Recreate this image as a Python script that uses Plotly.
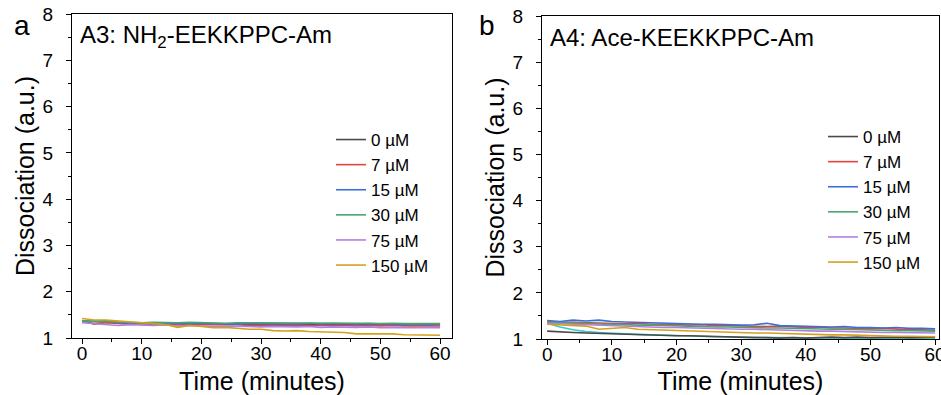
import plotly.graph_objects as go

time_min = [0, 2, 4, 6, 8, 10, 12, 14, 16, 18, 20, 22, 24, 26, 28, 30,
            32, 34, 36, 38, 40, 42, 44, 46, 48, 50, 52, 54, 56, 58, 60]

series_names = ["0 µM", "7 µM", "15 µM", "30 µM", "75 µM", "150 µM"]
series_colors = ["#4a4a4a", "#e8413c", "#3b6fd8", "#4aa66a", "#b27fe0", "#d4a020"]

# Panel a: A3 NH2-EEKKPPC-Am
a_0uM = [1.37, 1.35, 1.34, 1.33, 1.33, 1.32, 1.32, 1.31, 1.31, 1.31, 1.30, 1.31, 1.30, 1.30, 1.30, 1.29,
         1.30, 1.29, 1.30, 1.29, 1.29, 1.29, 1.30, 1.29, 1.28, 1.29, 1.29, 1.28, 1.29, 1.28, 1.29]
a_7uM = [1.38, 1.30, 1.33, 1.31, 1.30, 1.31, 1.29, 1.30, 1.28, 1.29, 1.29, 1.28, 1.28, 1.29, 1.27, 1.28,
         1.28, 1.27, 1.28, 1.27, 1.27, 1.28, 1.27, 1.26, 1.27, 1.26, 1.27, 1.26, 1.26, 1.27, 1.26]
a_15uM = [1.35, 1.36, 1.37, 1.33, 1.32, 1.32, 1.31, 1.32, 1.31, 1.31, 1.32, 1.31, 1.31, 1.30, 1.31, 1.31,
          1.30, 1.31, 1.30, 1.32, 1.30, 1.31, 1.30, 1.30, 1.31, 1.30, 1.30, 1.29, 1.30, 1.29, 1.30]
a_30uM = [1.37, 1.36, 1.35, 1.34, 1.34, 1.33, 1.34, 1.33, 1.33, 1.34, 1.33, 1.33, 1.32, 1.33, 1.33, 1.32,
          1.33, 1.32, 1.33, 1.32, 1.33, 1.32, 1.32, 1.33, 1.32, 1.31, 1.32, 1.31, 1.31, 1.31, 1.31]
a_75uM = [1.33, 1.31, 1.28, 1.27, 1.29, 1.28, 1.27, 1.28, 1.26, 1.27, 1.26, 1.25, 1.26, 1.25, 1.25, 1.24,
          1.25, 1.24, 1.24, 1.25, 1.23, 1.24, 1.23, 1.23, 1.24, 1.22, 1.23, 1.22, 1.22, 1.23, 1.22]
a_150uM = [1.42, 1.39, 1.39, 1.37, 1.36, 1.33, 1.32, 1.29, 1.23, 1.27, 1.25, 1.22, 1.23, 1.21, 1.19, 1.19,
           1.16, 1.15, 1.16, 1.14, 1.13, 1.13, 1.12, 1.09, 1.09, 1.08, 1.09, 1.07, 1.07, 1.07, 1.06]

# Panel b: A4 Ace-KEEKKPPC-Am
b_0uM = [1.17, 1.15, 1.14, 1.13, 1.12, 1.11, 1.10, 1.10, 1.09, 1.08, 1.07, 1.07, 1.06, 1.05, 1.04, 1.03,
         1.03, 1.03, 1.02, 1.03, 1.02, 1.03, 1.04, 1.03, 1.04, 1.03, 1.04, 1.04, 1.03, 1.04, 1.04]
b_7uM = [1.38, 1.36, 1.36, 1.35, 1.35, 1.34, 1.33, 1.34, 1.32, 1.32, 1.31, 1.30, 1.31, 1.29, 1.29, 1.28,
         1.28, 1.27, 1.28, 1.26, 1.25, 1.26, 1.24, 1.24, 1.23, 1.22, 1.23, 1.21, 1.20, 1.20, 1.19]
b_15uM = [1.40, 1.38, 1.41, 1.39, 1.41, 1.38, 1.37, 1.36, 1.35, 1.34, 1.33, 1.33, 1.32, 1.32, 1.31, 1.30,
          1.31, 1.34, 1.29, 1.28, 1.28, 1.27, 1.26, 1.27, 1.25, 1.25, 1.24, 1.25, 1.23, 1.23, 1.22]
b_30uM = [1.36, 1.35, 1.34, 1.33, 1.33, 1.32, 1.31, 1.30, 1.30, 1.29, 1.28, 1.28, 1.27, 1.26, 1.26, 1.25,
          1.25, 1.24, 1.24, 1.23, 1.22, 1.22, 1.21, 1.21, 1.20, 1.19, 1.19, 1.18, 1.18, 1.17, 1.17]
b_75uM = [1.34, 1.33, 1.31, 1.30, 1.29, 1.28, 1.27, 1.27, 1.26, 1.25, 1.25, 1.24, 1.23, 1.23, 1.22, 1.21,
          1.21, 1.20, 1.19, 1.19, 1.18, 1.17, 1.17, 1.16, 1.16, 1.15, 1.14, 1.14, 1.14, 1.13, 1.13]
b_150uM = [1.32, 1.31, 1.30, 1.28, 1.21, 1.23, 1.25, 1.21, 1.20, 1.19, 1.18, 1.17, 1.17, 1.16, 1.15, 1.14,
           1.13, 1.13, 1.12, 1.11, 1.11, 1.10, 1.09, 1.09, 1.08, 1.07, 1.07, 1.06, 1.06, 1.05, 1.05]
b_extra = [1.34, 1.26, 1.20, 1.16, 1.14, 1.12, 1.11, 1.10, 1.09, 1.08, 1.07, 1.07, 1.06, 1.05, 1.05, 1.04,
           1.04, 1.03, 1.03, 1.03, 1.02, 1.02, 1.02, 1.02, 1.01, 1.01, 1.01, 1.01, 1.01, 1.01, 1.01]
extra_color = "#3cc8c8"

panel_a = [a_0uM, a_7uM, a_15uM, a_30uM, a_75uM, a_150uM]
panel_b = [b_0uM, b_7uM, b_15uM, b_30uM, b_75uM, b_150uM]

FONT = "Liberation Sans, Arial, sans-serif"

fig = go.Figure()

for name, color, vals in zip(series_names, series_colors, panel_a):
    fig.add_trace(go.Scatter(x=time_min, y=vals, mode="lines", name=name,
                             line=dict(color=color, width=1.6),
                             xaxis="x", yaxis="y", legend="legend"))

fig.add_trace(go.Scatter(x=time_min, y=b_extra, mode="lines", name="extra",
                         line=dict(color=extra_color, width=1.6),
                         xaxis="x2", yaxis="y2", showlegend=False))
for name, color, vals in zip(series_names, series_colors, panel_b):
    fig.add_trace(go.Scatter(x=time_min, y=vals, mode="lines", name=name,
                             line=dict(color=color, width=1.6),
                             xaxis="x2", yaxis="y2", legend="legend2"))

W, H = 941, 395

def px_x(p):
    return p / W

def px_y(p):
    return 1 - p / H

axis_common = dict(showgrid=False, zeroline=False, showline=True, linecolor="black",
                   linewidth=1.3, mirror=True, ticks="outside", ticklen=5, tickwidth=1.2,
                   tickcolor="black", automargin=False,
                   tickfont=dict(family=FONT, size=19, color="black"),
                   title_font=dict(family=FONT, size=25, color="black"))

xa = dict(axis_common, range=[-1.7, 62], dtick=10, tick0=0, ticklabelstandoff=-7,
          ticklabeloverflow="allow",
          minor=dict(ticks="outside", ticklen=3, dtick=5, tickcolor="black"),
          title=dict(text="Time (minutes)", standoff=10))
ya = dict(axis_common, range=[1, 8], dtick=1, tick0=1, ticklabelstandoff=9,
          minor=dict(ticks="outside", ticklen=3, dtick=0.5, tickcolor="black"),
          title=dict(text="Dissociation (a.u.)", standoff=0))

fig.update_layout(
    width=W, height=H,
    margin=dict(l=0, r=0, t=0, b=0, autoexpand=False),
    paper_bgcolor="white", plot_bgcolor="white",
    font=dict(family=FONT, color="black"),
    xaxis=dict(xa, domain=[px_x(72), px_x(452)], anchor="y"),
    yaxis=dict(ya, domain=[px_y(338), px_y(14)], anchor="x"),
    xaxis2=dict(xa, range=[-0.8, 60.6], domain=[px_x(542), px_x(939)], anchor="y2"),
    yaxis2=dict(ya, domain=[px_y(339), px_y(16)], anchor="x2"),
    legend=dict(x=px_x(331), y=px_y(122), xanchor="left", yanchor="top",
                bgcolor="rgba(0,0,0,0)", font=dict(family=FONT, size=17, color="black")),
    legend2=dict(x=px_x(823), y=px_y(119), xanchor="left", yanchor="top",
                 bgcolor="rgba(0,0,0,0)", font=dict(family=FONT, size=17, color="black")),
    annotations=[
        dict(text="a", x=px_x(22), y=px_y(25), xref="paper", yref="paper",
             xanchor="center", yanchor="middle",
             showarrow=False, font=dict(family=FONT, size=28, color="black")),
        dict(text="b", x=px_x(487), y=px_y(25), xref="paper", yref="paper",
             xanchor="center", yanchor="middle",
             showarrow=False, font=dict(family=FONT, size=28, color="black")),
        dict(text="A3: NH<sub>2</sub>-EEKKPPC-Am", x=px_x(78), y=px_y(36),
             xref="paper", yref="paper", xanchor="left", yanchor="middle", showarrow=False,
             font=dict(family=FONT, size=24, color="black")),
        dict(text="A4: Ace-KEEKKPPC-Am", x=px_x(548), y=px_y(38),
             xref="paper", yref="paper", xanchor="left", yanchor="middle", showarrow=False,
             font=dict(family=FONT, size=24, color="black")),
    ],
)

fig.write_html("out.html", config={"displayModeBar": False},
               post_script="document.body.style.margin='0px';")
